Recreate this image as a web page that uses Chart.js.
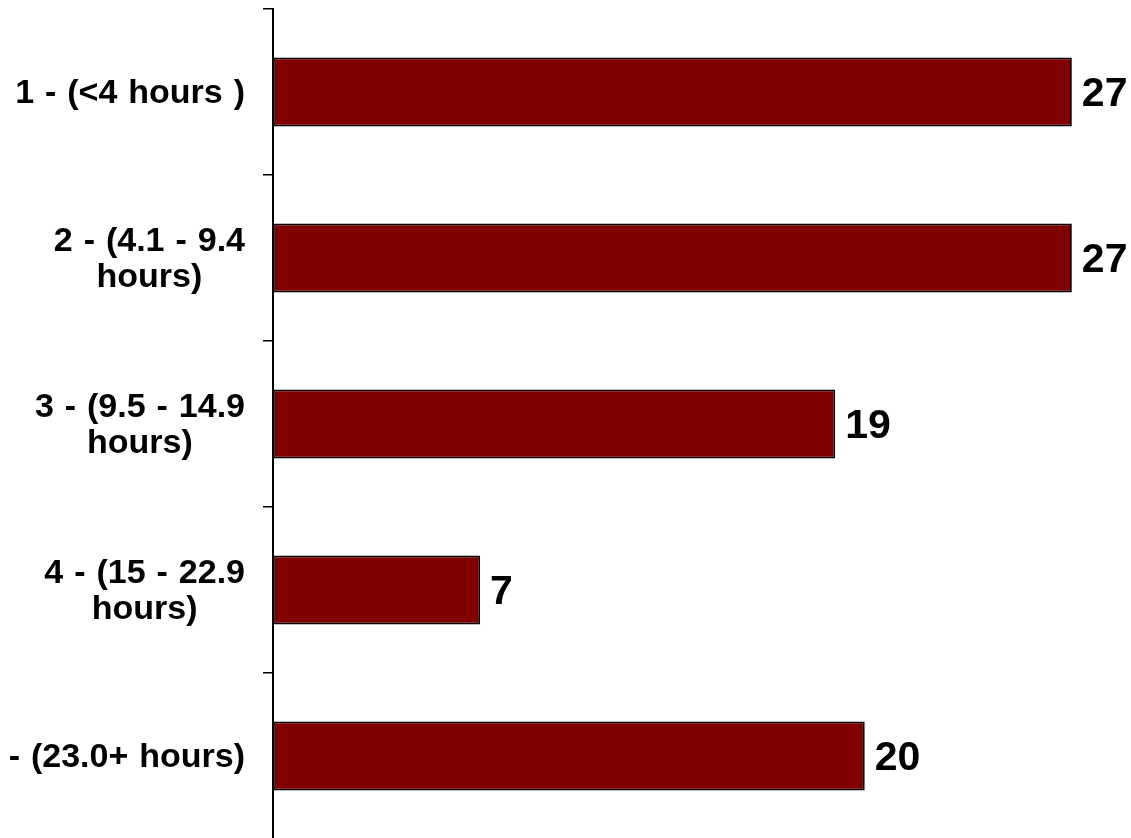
<!DOCTYPE html>
<html>
<head>
<meta charset="utf-8">
<script src="https://cdn.jsdelivr.net/npm/chart.js@4/dist/chart.umd.min.js"></script>
<style>
  html, body { margin: 0; padding: 0; background: #fff; overflow: hidden; }
  #wrap { position: relative; width: 1131px; height: 839px; }
</style>
</head>
<body>
<div id="wrap"><canvas id="c"></canvas></div>
<script>
// Hours-band categories (each label split into its printed lines)
const categories = [
  ['1 - (<4 hours )'],
  ['2 - (4.1 - 9.4', 'hours)'],
  ['3 - (9.5 - 14.9', 'hours)'],
  ['4 - (15 - 22.9', 'hours)'],
  ['5 - (23.0+ hours)']
];
// Count per band
const values = [27, 27, 19, 7, 20];

const FONT = '"Liberation Sans", Arial, Helvetica, sans-serif';

// Category labels: right-aligned block, lines centred within the block
const categoryLabels = {
  id: 'categoryLabels',
  afterDraw(chart) {
    const ctx = chart.ctx;
    const y = chart.scales.y;
    const right = chart.chartArea.left - 28;
    const lineH = 36;
    ctx.save();
    ctx.font = 'bold 34px ' + FONT;
    if ('wordSpacing' in ctx) ctx.wordSpacing = '1.5px';
    ctx.fillStyle = '#000';
    ctx.textBaseline = 'middle';
    ctx.textAlign = 'center';
    categories.forEach((lines, i) => {
      const cy = y.getPixelForTick(i) + 2;
      const widest = Math.max(...lines.map(l => ctx.measureText(l).width));
      const cx = right - widest / 2;
      const top = cy - (lines.length - 1) * lineH / 2;
      lines.forEach((l, j) => ctx.fillText(l, cx, top + j * lineH));
    });
    ctx.restore();
  }
};

// Value labels at the end of each bar
const valueLabels = {
  id: 'valueLabels',
  afterDatasetsDraw(chart) {
    const ctx = chart.ctx;
    const meta = chart.getDatasetMeta(0);
    ctx.save();
    ctx.font = 'bold 41px ' + FONT;
    ctx.fillStyle = '#000';
    ctx.textBaseline = 'middle';
    ctx.textAlign = 'left';
    meta.data.forEach((bar, i) => {
      ctx.fillText(String(values[i]), bar.x + 10, bar.y + 3);
    });
    ctx.restore();
  }
};

new Chart(document.getElementById('c'), {
  type: 'bar',
  data: {
    labels: categories,
    datasets: [{
      data: values,
      backgroundColor: '#800000',
      borderColor: '#000',
      borderWidth: 1.8,
      borderSkipped: false,
      barPercentage: 0.416,
      categoryPercentage: 1
    }]
  },
  options: {
    indexAxis: 'y',
    responsive: true,
    maintainAspectRatio: false,
    animation: false,
    layout: { padding: { top: 9, right: 0, bottom: 0, left: 0 } },
    plugins: { legend: { display: false }, tooltip: { enabled: false } },
    scales: {
      x: { type: 'linear', min: 0, max: 29, display: false },
      y: {
        type: 'category',
        offset: true,
        ticks: { display: false },
        grid: {
          offset: true,
          drawOnChartArea: false,
          drawTicks: true,
          tickLength: 10,
          color: '#000',
          lineWidth: 1.5
        },
        border: { display: true, color: '#000', width: 2 },
        afterFit(scale) { scale.width = 273; }
      }
    }
  },
  plugins: [categoryLabels, valueLabels]
});
</script>
</body>
</html>
